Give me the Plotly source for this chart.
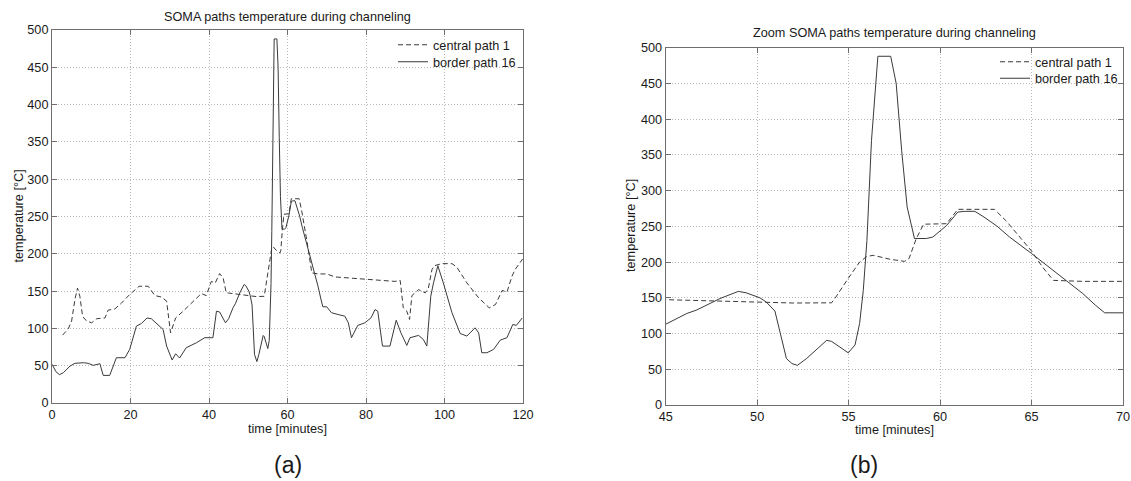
import plotly.graph_objects as go

# ---- data (time in minutes, temperature in °C) ----
time_border = [0, 1.0, 1.9, 2.9, 4.6, 5.85, 8.0, 9.2, 10.5, 12.2, 13.05, 14.7, 16.4, 18.6,
               19.8, 21.5, 22.8, 24.2, 25.3, 26.6, 28.3, 29.2, 30.6, 31.5, 32.5, 34.2,
               36.8, 38.9, 41.0, 41.9, 42.7, 44.2, 45.0, 46.15, 46.7, 47.97, 48.97, 49.4,
               50.15, 50.5, 50.97, 51.6, 51.9, 52.2, 52.7, 53.8, 54.07, 54.98, 55.35,
               55.6, 55.8, 56.0, 56.25, 56.6, 57.3, 57.6, 57.9, 58.2, 58.6, 59.25, 59.6,
               59.98, 60.35, 60.97, 61.35, 61.9, 62.4, 63.1, 63.8, 65.0, 66.2, 66.9,
               67.8, 68.5, 69.0, 70.0, 71.2, 72.9, 74.6, 75.5, 76.3, 77.9, 79.7, 81.3,
               82.3, 83.0, 84.2, 86.1, 87.7, 88.9, 90.4, 91.2, 93.4, 94.6, 95.5, 96.5,
               97.2, 98.3, 99.7, 101.9, 104.0, 105.7, 107.8, 108.7, 109.5, 110.8, 112.5,
               114.2, 115.9, 117.4, 118.3, 119.8]
temp_border = [52, 42, 38, 40.6, 49.6, 53.2, 54, 53.2, 50.5, 52.7, 37, 37, 60.7, 60.7,
               72, 103, 106.6, 114, 113, 106.6, 98.6, 76.3, 57.6, 66, 60.3, 74.1,
               80.8, 87.5, 87.5, 123, 122, 107.5, 113, 128, 133, 149, 159, 157,
               150, 144, 131.5, 65, 58, 55.5, 65, 90.5, 89, 73, 84,
               114, 160, 230, 370, 488, 488, 450, 356, 277, 233, 233, 235,
               243.5, 251, 270, 271, 271, 263, 250.5, 235, 212, 188, 173.5,
               156, 139.5, 129, 129, 121, 118.6, 116.4, 107.5, 87.5, 104, 107.5, 114.2,
               125.3, 123, 76.3, 76.3, 111, 94, 77.2, 87.5, 90.6, 85.2, 76.3, 143,
               161, 184, 161, 121, 93.2, 89.7, 100.8, 94, 67.4, 67.4, 71.8,
               84.3, 87.5, 105.3, 104, 114]

time_central = [2.7, 4.15, 5.0, 5.85, 6.5, 7.1, 7.8, 8.8, 10.1, 11.4, 13.5, 14.3, 16.0,
                17.7, 19.8, 22.2, 24.5, 26.2, 27.9, 29.2, 30.2, 31.5, 33.4, 35.1, 36.8,
                38.05, 39.3, 40.6, 41.6, 42.7, 43.6, 44.4, 45.0, 46.5, 48.0, 50.2, 52.0,
                54.07, 54.3, 55.0, 55.6, 56.0, 56.35, 57.26, 58.05, 58.3, 58.7, 59.1,
                60.35, 60.97, 62.97, 63.6, 65.0, 65.6, 66.2, 67.8, 70.0, 72.1, 80.2,
                87.4, 88.7, 89.5, 90.4, 91.1, 91.7, 93.4, 95.1, 95.9, 96.8, 97.4, 99.3,
                101.9, 103.1, 105.7, 108.7, 111.4, 113.0, 114.7, 115.9, 117.2, 118.0, 119.9]
temp_central = [91, 99.5, 110, 139, 154, 143, 116, 110, 107.5, 113, 114, 124.5, 126,
                134, 145.4, 156.5, 156.5, 144, 142, 136.5, 94, 114, 123, 132, 141,
                146.7, 144, 163, 161, 173.5, 167.6, 147.6, 147.4, 146.5, 145, 144, 142.7,
                143, 151, 178, 200, 208, 209.4, 204, 201, 204.8, 233, 253,
                253.7, 273.8, 273.8, 258, 215.5, 193, 174.4, 173, 173, 169, 165.4,
                163, 164.5, 127.6, 123, 112, 144, 152, 147.6, 154, 178.8, 184, 186.8,
                186.8, 182.4, 161, 141, 127.5, 132, 151, 148.5, 170, 179, 193]

x_ticks_full = [0, 20, 40, 60, 80, 100, 120]
x_ticks_zoom = [45, 50, 55, 60, 65, 70]
y_ticks = [0, 50, 100, 150, 200, 250, 300, 350, 400, 450, 500]

series_names = ["central path 1", "border path 16"]
panel_titles = ["SOMA paths temperature during channeling",
                "Zoom SOMA paths temperature during channeling"]
x_label = "time [minutes]"
y_label = "temperature [°C]"
panel_tags = ["(a)", "(b)"]

# ---- styling ----
W, H = 1131, 481
FONT = "Liberation Sans, Arial, sans-serif"
FS = 12.7
LINE_COL = "#3a3a3a"
GRID_COL = "#b8b8b8"
FRAME_COL = "#6e6e6e"


def px(x):
    return x / W


def py(y):
    return (H - y) / H


fig = go.Figure()
panels = [("x", "y", "legend", "legend2"), ("x2", "y2", "legend3", "legend4")]
for xa, ya, leg_c, leg_b in panels:
    fig.add_trace(go.Scatter(x=time_central, y=temp_central, mode="lines",
                             name=series_names[0], xaxis=xa, yaxis=ya, legend=leg_c,
                             line=dict(color=LINE_COL, width=1, dash="5px,3px")))
    fig.add_trace(go.Scatter(x=time_border, y=temp_border, mode="lines",
                             name=series_names[1], xaxis=xa, yaxis=ya, legend=leg_b,
                             line=dict(color=LINE_COL, width=1)))

axis_common = dict(showline=True, linecolor=FRAME_COL, linewidth=1, mirror="ticks",
                   ticks="inside", ticklen=5, tickcolor=FRAME_COL, showgrid=True,
                   gridcolor=GRID_COL, griddash="1px,2px", gridwidth=1, zeroline=False,
                   automargin=False, ticklabeloverflow="allow",
                   tickfont=dict(family=FONT, size=FS, color="#1a1a1a"))


def legend_at(x, y):
    return dict(x=px(x), y=py(y), xanchor="left", yanchor="middle",
                bgcolor="rgba(0,0,0,0)", font=dict(family=FONT, size=FS, color="#1a1a1a"),
                tracegroupgap=0, itemwidth=30, borderwidth=0)


fig.update_layout(
    width=W, height=H, margin=dict(l=0, r=0, t=0, b=0, autoexpand=False),
    paper_bgcolor="white", plot_bgcolor="white",
    font=dict(family=FONT, size=FS, color="#1a1a1a"),
    xaxis=dict(domain=[px(52), px(523)], range=[0, 120], tickvals=x_ticks_full,
               anchor="y", **axis_common),
    yaxis=dict(domain=[py(403), py(30)], range=[0, 500], tickvals=y_ticks,
               anchor="x", **axis_common),
    xaxis2=dict(domain=[px(665.7), px(1123)], range=[45, 70], tickvals=x_ticks_zoom,
                anchor="y2", **axis_common),
    yaxis2=dict(domain=[py(405), py(47.7)], range=[0, 500], tickvals=y_ticks,
                anchor="x2", **axis_common),
    legend=legend_at(393, 45),
    legend2=legend_at(393, 62),
    legend3=legend_at(995, 62),
    legend4=legend_at(995, 78.5),
    showlegend=True,
)

ann = []
ann.append(dict(text=panel_titles[0], x=px(287.5), y=py(17)))
ann.append(dict(text=panel_titles[1], x=px(894), y=py(33)))
ann.append(dict(text=x_label, x=px(287.5), y=py(429)))
ann.append(dict(text=x_label, x=px(894), y=py(430)))
ann.append(dict(text=y_label, x=px(18), y=py(216.5), textangle=-90))
ann.append(dict(text=y_label, x=px(631), y=py(226), textangle=-90))
for a in ann:
    a.update(xref="paper", yref="paper", xanchor="center", yanchor="middle",
             showarrow=False, font=dict(family=FONT, size=FS, color="#1a1a1a"))
ann.append(dict(text=panel_tags[0], x=px(287.5), y=py(465), xref="paper", yref="paper",
                xanchor="center", yanchor="middle", showarrow=False,
                font=dict(family=FONT, size=23, color="#1a1a1a")))
ann.append(dict(text=panel_tags[1], x=px(864), y=py(465), xref="paper", yref="paper",
                xanchor="center", yanchor="middle", showarrow=False,
                font=dict(family=FONT, size=23, color="#1a1a1a")))
fig.update_layout(annotations=ann)

# remove the browser's default 8px body margin so the figure fills the window exactly
fig.write_html("out.html", config={"displayModeBar": False},
               post_script="document.body.style.margin='0px';")
